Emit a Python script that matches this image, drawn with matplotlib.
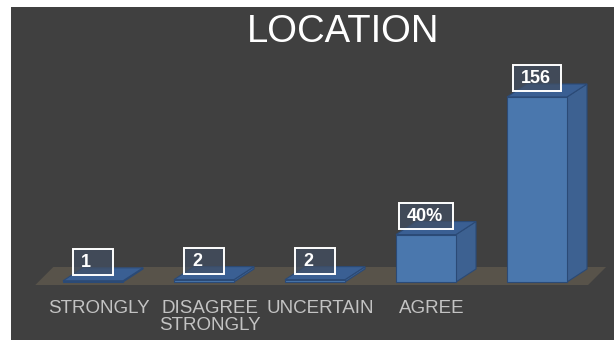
import matplotlib.pyplot as plt
from matplotlib.patches import Polygon, Rectangle

plt.rcParams['font.family'] = ['Liberation Sans', 'DejaVu Sans']

categories = ['STRONGLY', 'DISAGREE\nSTRONGLY', 'UNCERTAIN', 'AGREE', '']
values = [1, 2, 2, 40, 156]
value_labels = ['1', '2', '2', '40%', '156']
title = 'LOCATION'

W, H = 614, 341
fig = plt.figure(figsize=(W / 100, H / 100), dpi=100, facecolor='white')

# plot area edges in pixels, measured from the top-left corner
left, top, right, bottom = 11, 7, 614, 340
ax = fig.add_axes([left / W, (H - bottom) / H, (right - left) / W, (bottom - top) / H])
ax.set_facecolor('#404040')
for s in ax.spines.values():
    s.set_visible(False)
ax.set_xticks([])
ax.set_yticks([])

# pixel scale of the data axes
px_x = 111.0          # pixels per category
px_y = 1.186          # pixels per value unit
x0 = 93 - left        # first category centre
y0 = bottom - 282     # baseline height above the axes bottom
ax.set_xlim(-x0 / px_x, (right - left - x0) / px_x)
ax.set_ylim(-y0 / px_y, (bottom - top - y0) / px_y)

n = len(values)
bar_w = 60 / px_x
dx, dy = 20 / px_x, 13 / px_y

# floor
f_front = -3 / px_y
f_dx, f_dy = 18 / px_x, 18 / px_y
f_l, f_r = -0.52, n - 1 + 0.46
ax.add_patch(Polygon([(f_l, f_front), (f_r, f_front), (f_r + f_dx, f_front + f_dy),
                      (f_l + f_dx, f_front + f_dy)], closed=True,
                     facecolor='#58534a', edgecolor='none', zorder=1))

edge = '#2b4a76'
for i, v in enumerate(values):
    xl, xr = i - bar_w / 2, i + bar_w / 2
    side = [(xr, 0), (xr + dx, dy), (xr + dx, v + dy), (xr, v)]
    topf = [(xl, v), (xr, v), (xr + dx, v + dy), (xl + dx, v + dy)]
    front = [(xl, 0), (xr, 0), (xr, v), (xl, v)]
    ax.add_patch(Polygon(side, closed=True, facecolor='#3d6191', edgecolor=edge, lw=0.8, zorder=2))
    ax.add_patch(Polygon(topf, closed=True, facecolor='#3a5f93', edgecolor=edge, lw=0.8, zorder=2))
    ax.add_patch(Polygon(front, closed=True, facecolor='#4a77ad', edgecolor=edge, lw=0.8, zorder=3))

# value boxes
fig.canvas.draw()
renderer = fig.canvas.get_renderer()
for i, (v, lab) in enumerate(zip(values, value_labels)):
    t = ax.text(i, v, lab, color='white', fontsize=13, fontweight='bold',
                ha='left', va='baseline', zorder=6)
    tw = t.get_window_extent(renderer).width
    bw = max(40, tw + 18)
    bh = 26
    bx = i - bw / 2 / px_x
    by = v + 6 / px_y
    t.set_position((bx + 8 / px_x, by + 7.5 / px_y))
    ax.add_patch(Rectangle((bx, by), bw / px_x, bh / px_y, facecolor=(0.26, 0.31, 0.39, 0.7),
                           edgecolor='white', lw=1.4, zorder=5))

# category labels
for i, c in enumerate(categories):
    ax.text(i + 0.05, (282 - 300) / px_y, c, color='#c3c3c3', fontsize=13.5,
            ha='center', va='top', linespacing=0.98, zorder=4)

fig.text(343 / W, 1 - 42 / H, title, color='white', fontsize=27.5,
         ha='center', va='baseline')

fig.savefig('out.png', dpi=100, facecolor='white')
